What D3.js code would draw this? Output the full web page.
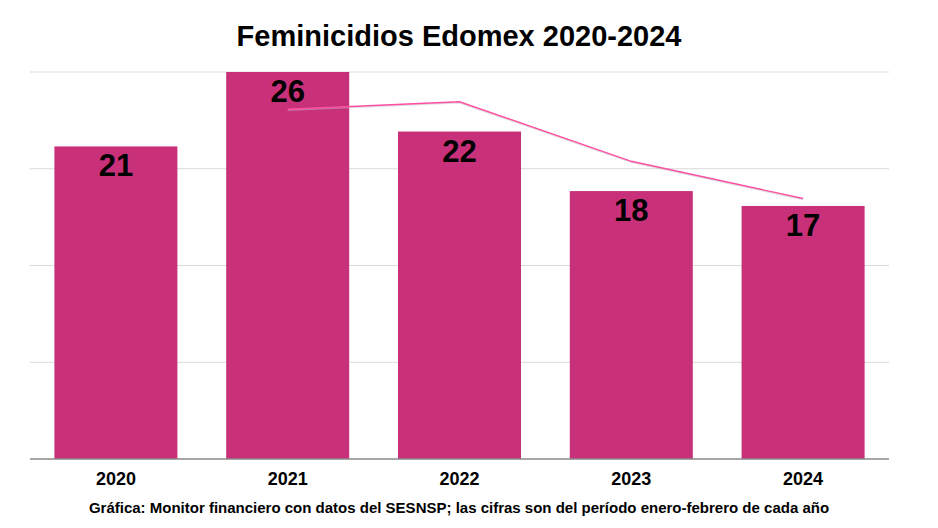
<!DOCTYPE html>
<html><head><meta charset="utf-8">
<script src="https://cdn.jsdelivr.net/npm/d3@7"></script>
<style>body{margin:0;background:#fff}svg{display:block}text{font-family:"Liberation Sans",Arial,sans-serif}</style>
</head><body>
<svg id="c" width="938" height="528"></svg>
<script>
const years = ["2020","2021","2022","2023","2024"];
const values = [21,26,22,18,17];
const movingAvg = [null,23.5,24,20,17.5];
const gridTicks = [0,6.5,13,19.5,26];
const title = "Feminicidios Edomex 2020-2024";
const caption = "Gráfica: Monitor financiero con datos del SESNSP; las cifras son del período enero-febrero de cada año";

const svg = d3.select("#c");
const m = {left:30, right:49, top:72, bottom:69};
const W = 938, H = 528;
const x = d3.scaleBand().domain(years).range([m.left, W-m.right]).paddingInner(0.284).paddingOuter(0.142);
const y = d3.scaleLinear().domain([0,26]).range([H-m.bottom, m.top]);

svg.append("g").selectAll("line").data(gridTicks.slice(1)).join("line")
  .attr("x1",m.left).attr("x2",W-m.right).attr("y1",d=>y(d)).attr("y2",d=>y(d))
  .attr("stroke","#d9d9d9").attr("stroke-width",1);

svg.append("g").selectAll("rect").data(values).join("rect")
  .attr("x",(d,i)=>x(years[i])).attr("width",x.bandwidth())
  .attr("y",d=>y(d)).attr("height",d=>y(0)-y(d)).attr("fill","#c9307a");

svg.append("line").attr("x1",m.left).attr("x2",W-m.right).attr("y1",y(0)).attr("y2",y(0))
  .attr("stroke","#888").attr("stroke-width",1.3);

const pts = movingAvg.map((v,i)=>[v,i]).filter(d=>d[0]!=null);
const line = d3.line().x(d=>x(years[d[1]])+x.bandwidth()/2).y(d=>y(d[0]));
svg.append("path").attr("d",line(pts)).attr("fill","none").attr("stroke","#bbb").attr("stroke-opacity",0.5)
  .attr("stroke-width",1.5).attr("transform","translate(0,1)");
svg.append("path").attr("d",line(pts)).attr("fill","none").attr("stroke","#ff4fa3").attr("stroke-width",1.4);

svg.append("g").selectAll("text").data(values).join("text")
  .attr("x",(d,i)=>x(years[i])+x.bandwidth()/2).attr("y",d=>y(d)+30)
  .attr("text-anchor","middle").attr("font-size",31).attr("font-weight","bold").attr("fill","#000")
  .text(d=>d);

const xAxis = d3.axisBottom(x).tickSize(0).tickPadding(0);
const gx = svg.append("g").attr("transform",`translate(0,${y(0)})`).call(xAxis);
gx.select(".domain").remove();
gx.selectAll("text").attr("dy",null).attr("y",26).attr("font-size",18).attr("font-weight","bold")
  .attr("fill","#000").attr("font-family","Liberation Sans, Arial, sans-serif");

svg.append("text").attr("x",459).attr("y",46).attr("text-anchor","middle")
  .attr("font-size",29).attr("font-weight","bold").attr("fill","#000").text(title);
svg.append("text").attr("x",459).attr("y",513).attr("text-anchor","middle")
  .attr("font-size",15).attr("font-weight","bold").attr("fill","#000").text(caption);
</script>
</body></html>
